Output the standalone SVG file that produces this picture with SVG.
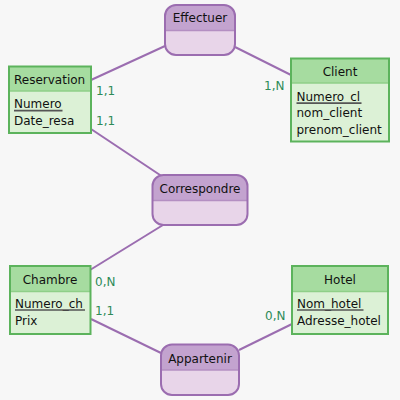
<svg xmlns="http://www.w3.org/2000/svg" width="400" height="400" viewBox="0 0 400 400">
<style>
text{font-family:"DejaVu Sans",Verdana,sans-serif;font-size:12px;fill:#111}
.eh{fill:#a6dca0}
.eb{fill:#dcf1d6}
.eo{fill:none;stroke:#5cb35c;stroke-width:2}
.es{stroke:#8fcf88;stroke-width:1.5}
.ah{fill:#c3a3cf}
.ab{fill:#e8d5e9}
.ao{fill:none;stroke:#9b6db0;stroke-width:2}
.as{stroke:#b48fc2;stroke-width:1.5}
.ln{stroke:#9b6db0;stroke-width:2;fill:none}
.ul{stroke:#555;stroke-width:1.6}
.c{text-anchor:middle}
.card{fill:#2e8b57}
</style>
<defs>
<clipPath id="cE"><rect x="165" y="5" width="70" height="50" rx="11"/></clipPath>
<clipPath id="cC"><rect x="152.5" y="175" width="95" height="50" rx="11"/></clipPath>
<clipPath id="cA"><rect x="161" y="344.5" width="78" height="50.5" rx="11"/></clipPath>
</defs>
<rect width="400" height="400" fill="#f7f7f7"/>
<g id="connectors">
<line class="ln" x1="165" y1="46" x2="91" y2="80"/>
<line class="ln" x1="235" y1="47" x2="291" y2="75"/>
<line class="ln" x1="163" y1="177" x2="91" y2="129"/>
<line class="ln" x1="163" y1="225" x2="90" y2="270"/>
<line class="ln" x1="161" y1="353" x2="91" y2="319"/>
<line class="ln" x1="239" y1="350" x2="292" y2="324"/>
<text class="card" x="96" y="95">1,1</text>
<text class="card" x="96" y="125">1,1</text>
<text class="card" x="264" y="89.5">1,N</text>
<text class="card" x="95" y="286">0,N</text>
<text class="card" x="95" y="314.5">1,1</text>
<text class="card" x="265" y="320">0,N</text>
</g>
<g id="Effectuer">
<g clip-path="url(#cE)">
<rect class="ab" x="165" y="5" width="70" height="50"/>
<rect class="ah" x="165" y="5" width="70" height="25.5"/>
</g>
<line class="as" x1="165" y1="30.5" x2="235" y2="30.5"/>
<rect class="ao" x="165" y="5" width="70" height="50" rx="11"/>
<text class="c" x="200" y="22">Effectuer</text>
</g>
<g id="Reservation">
<rect class="eb" x="9" y="66.5" width="82" height="66.5"/>
<rect class="eh" x="9" y="66.5" width="82" height="24.5"/>
<line class="es" x1="9" y1="91" x2="91" y2="91"/>
<rect class="eo" x="9" y="66.5" width="82" height="66.5"/>
<text x="14" y="83.5">Reservation</text>
<text x="14" y="108">Numero</text>
<line class="ul" x1="14" y1="110.6" x2="62.5" y2="110.6"/>
<text x="14" y="125">Date_resa</text>
</g>
<g id="Client">
<rect class="eb" x="291" y="58.5" width="98" height="83"/>
<rect class="eh" x="291" y="58.5" width="98" height="24.5"/>
<line class="es" x1="291" y1="83" x2="389" y2="83"/>
<rect class="eo" x="291" y="58.5" width="98" height="83"/>
<text class="c" x="340" y="76">Client</text>
<text x="296.5" y="100.5">Numero_cl</text>
<line class="ul" x1="296.5" y1="103.1" x2="361.5" y2="103.1"/>
<text x="296.5" y="117">nom_client</text>
<text x="296.5" y="133.5">prenom_client</text>
</g>
<g id="Correspondre">
<g clip-path="url(#cC)">
<rect class="ab" x="152.5" y="175" width="95" height="50"/>
<rect class="ah" x="152.5" y="175" width="95" height="25.5"/>
</g>
<line class="as" x1="152.5" y1="200.5" x2="247.5" y2="200.5"/>
<rect class="ao" x="152.5" y="175" width="95" height="50" rx="11"/>
<text class="c" x="200" y="192.5">Correspondre</text>
</g>
<g id="Chambre">
<rect class="eb" x="10" y="266" width="80.5" height="68"/>
<rect class="eh" x="10" y="266" width="80.5" height="25.5"/>
<line class="es" x1="10" y1="291.5" x2="90.5" y2="291.5"/>
<rect class="eo" x="10" y="266" width="80.5" height="68"/>
<text class="c" x="50" y="284">Chambre</text>
<text x="15" y="307.8">Numero_ch</text>
<line class="ul" x1="15" y1="310" x2="85" y2="310"/>
<text x="15" y="325">Prix</text>
</g>
<g id="Hotel">
<rect class="eb" x="292" y="266" width="96" height="68"/>
<rect class="eh" x="292" y="266" width="96" height="25.5"/>
<line class="es" x1="292" y1="291.5" x2="388" y2="291.5"/>
<rect class="eo" x="292" y="266" width="96" height="68"/>
<text class="c" x="340" y="284">Hotel</text>
<text x="297" y="307.8">Nom_hotel</text>
<line class="ul" x1="297" y1="310" x2="363.5" y2="310"/>
<text x="297" y="325">Adresse_hotel</text>
</g>
<g id="Appartenir">
<g clip-path="url(#cA)">
<rect class="ab" x="161" y="344.5" width="78" height="50.5"/>
<rect class="ah" x="161" y="344.5" width="78" height="25.5"/>
</g>
<line class="as" x1="161" y1="370" x2="239" y2="370"/>
<rect class="ao" x="161" y="344.5" width="78" height="50.5" rx="11"/>
<text class="c" x="200" y="362.5">Appartenir</text>
</g>
</svg>
